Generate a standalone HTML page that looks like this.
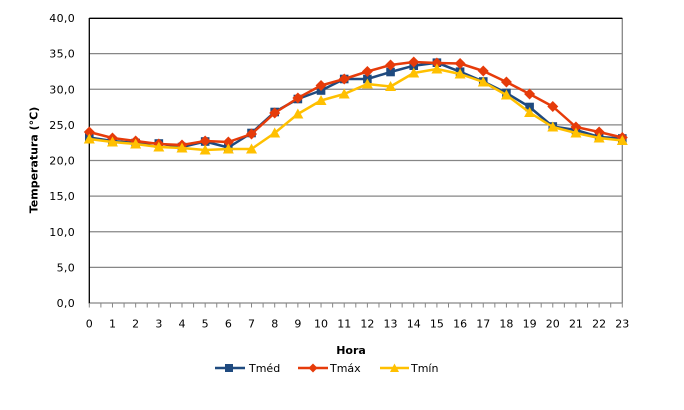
<!DOCTYPE html>
<html><head><meta charset="utf-8"><style>
html,body{margin:0;padding:0;background:#fff;}
svg{display:block;}
text{font-family:"DejaVu Sans","Liberation Sans",sans-serif;fill:#000;}
</style></head><body>
<svg width="684" height="410" viewBox="0 0 684 410" xmlns="http://www.w3.org/2000/svg">
<rect width="684" height="410" fill="#fff"/>
<g stroke="#868686" stroke-width="1.3">
<line x1="89.3" y1="267.4" x2="622.3" y2="267.4"/>
<line x1="89.3" y1="231.75" x2="622.3" y2="231.75"/>
<line x1="89.3" y1="196.1" x2="622.3" y2="196.1"/>
<line x1="89.3" y1="160.5" x2="622.3" y2="160.5"/>
<line x1="89.3" y1="124.9" x2="622.3" y2="124.9"/>
<line x1="89.3" y1="89.25" x2="622.3" y2="89.25"/>
<line x1="89.3" y1="53.6" x2="622.3" y2="53.6"/>
<line x1="622.3" y1="18" x2="622.3" y2="303"/>
<line x1="89.3" y1="303" x2="622.3" y2="303"/>
</g>
<line x1="89.3" y1="18.3" x2="622.3" y2="18.3" stroke="#000" stroke-width="1.3"/>
<line x1="89.3" y1="18" x2="89.3" y2="303.5" stroke="#000" stroke-width="1.3"/>
<g stroke="#868686" stroke-width="1" id="ticks"></g>
<g font-size="11" text-anchor="end" letter-spacing="0.3">
<text x="75" y="307">0,0</text>
<text x="75" y="271.4">5,0</text>
<text x="75" y="235.75">10,0</text>
<text x="75" y="200.1">15,0</text>
<text x="75" y="164.5">20,0</text>
<text x="75" y="128.9">25,0</text>
<text x="75" y="93.25">30,0</text>
<text x="75" y="57.6">35,0</text>
<text x="75" y="22">40,0</text>
</g>
<g font-size="11" text-anchor="middle" id="xl"></g>
<text x="0" y="0" font-size="11" font-weight="bold" text-anchor="middle" transform="translate(37.5,160) rotate(-90)">Temperatura (°C)</text>
<text x="351" y="354" font-size="11" font-weight="bold" text-anchor="middle">Hora</text>
<g id="series"></g>
<!-- legend -->
<line x1="215" y1="368" x2="245" y2="368" stroke="#1F4A7F" stroke-width="2.5"/>
<rect x="225" y="364" width="8" height="8" fill="#1F4A7F"/>
<text x="249" y="372" font-size="11">Tméd</text>
<line x1="298" y1="368" x2="328" y2="368" stroke="#E63B0A" stroke-width="2.5"/>
<polygon points="313,363.5 317.5,368 313,372.5 308.5,368" fill="#E63B0A"/>
<text x="330" y="372" font-size="11">Tmáx</text>
<line x1="380" y1="368" x2="409" y2="368" stroke="#FFC000" stroke-width="2.5"/>
<polygon points="394.5,363.5 399,372 390,372" fill="#FFC000"/>
<text x="411" y="372" font-size="11">Tmín</text>
</svg>
<script>
(function(){
var NS="http://www.w3.org/2000/svg";
var t=document.getElementById("ticks");
for(var k=0;k<=46;k++){var x=89.3+k*533/46;var l=document.createElementNS(NS,"line");l.setAttribute("x1",x);l.setAttribute("x2",x);l.setAttribute("y1",303);l.setAttribute("y2",307.5);t.appendChild(l);}
var xl=document.getElementById("xl");
function X(i){return 89.3+i*533/23;}
for(var i=0;i<24;i++){var tx=document.createElementNS(NS,"text");tx.setAttribute("x",X(i));tx.setAttribute("y",327.5);tx.textContent=String(i);xl.appendChild(tx);}
var med=[137.5,141,143,143.5,147,141.5,147.5,133,112,99,90.5,79,79,72,65.7,62.7,71.7,81.5,93,107,126.5,130,137,138.5];
var max=[132,138,141,144,145,141,142,134,113,98,85.5,79,71.5,65,62,63,63.5,71,82,94,106.5,127,132,137.5];
var min=[139,142,144,147,148,150,149,149,133,114,100.5,94,84,86.5,73,69,74,82,95,112.5,127,133,138,140.5];
var g=document.getElementById("series");
function line(d,c){var p=document.createElementNS(NS,"polyline");p.setAttribute("points",d.map(function(y,i){return X(i)+","+y}).join(" "));p.setAttribute("fill","none");p.setAttribute("stroke",c);p.setAttribute("stroke-width","2.5");p.setAttribute("stroke-linejoin","round");g.appendChild(p);}
function sq(d,c){d.forEach(function(y,i){var r=document.createElementNS(NS,"rect");r.setAttribute("x",X(i)-4.3);r.setAttribute("y",y-4.3);r.setAttribute("width",8.6);r.setAttribute("height",8.6);r.setAttribute("fill",c);g.appendChild(r);});}
function di(d,c){d.forEach(function(y,i){var x=X(i);var r=document.createElementNS(NS,"polygon");r.setAttribute("points",x+","+(y-5.5)+" "+(x+5.5)+","+y+" "+x+","+(y+5.5)+" "+(x-5.5)+","+y);r.setAttribute("fill",c);g.appendChild(r);});}
function tr(d,c){d.forEach(function(y,i){var x=X(i);var r=document.createElementNS(NS,"polygon");r.setAttribute("points",x+","+(y-5.5)+" "+(x+5.5)+","+(y+4.5)+" "+(x-5.5)+","+(y+4.5));r.setAttribute("fill",c);g.appendChild(r);});}
line(med,"#1F4A7F");sq(med,"#1F4A7F");
line(max,"#E63B0A");di(max,"#E63B0A");
line(min,"#FFC000");tr(min,"#FFC000");
})();
</script>
</body></html>
